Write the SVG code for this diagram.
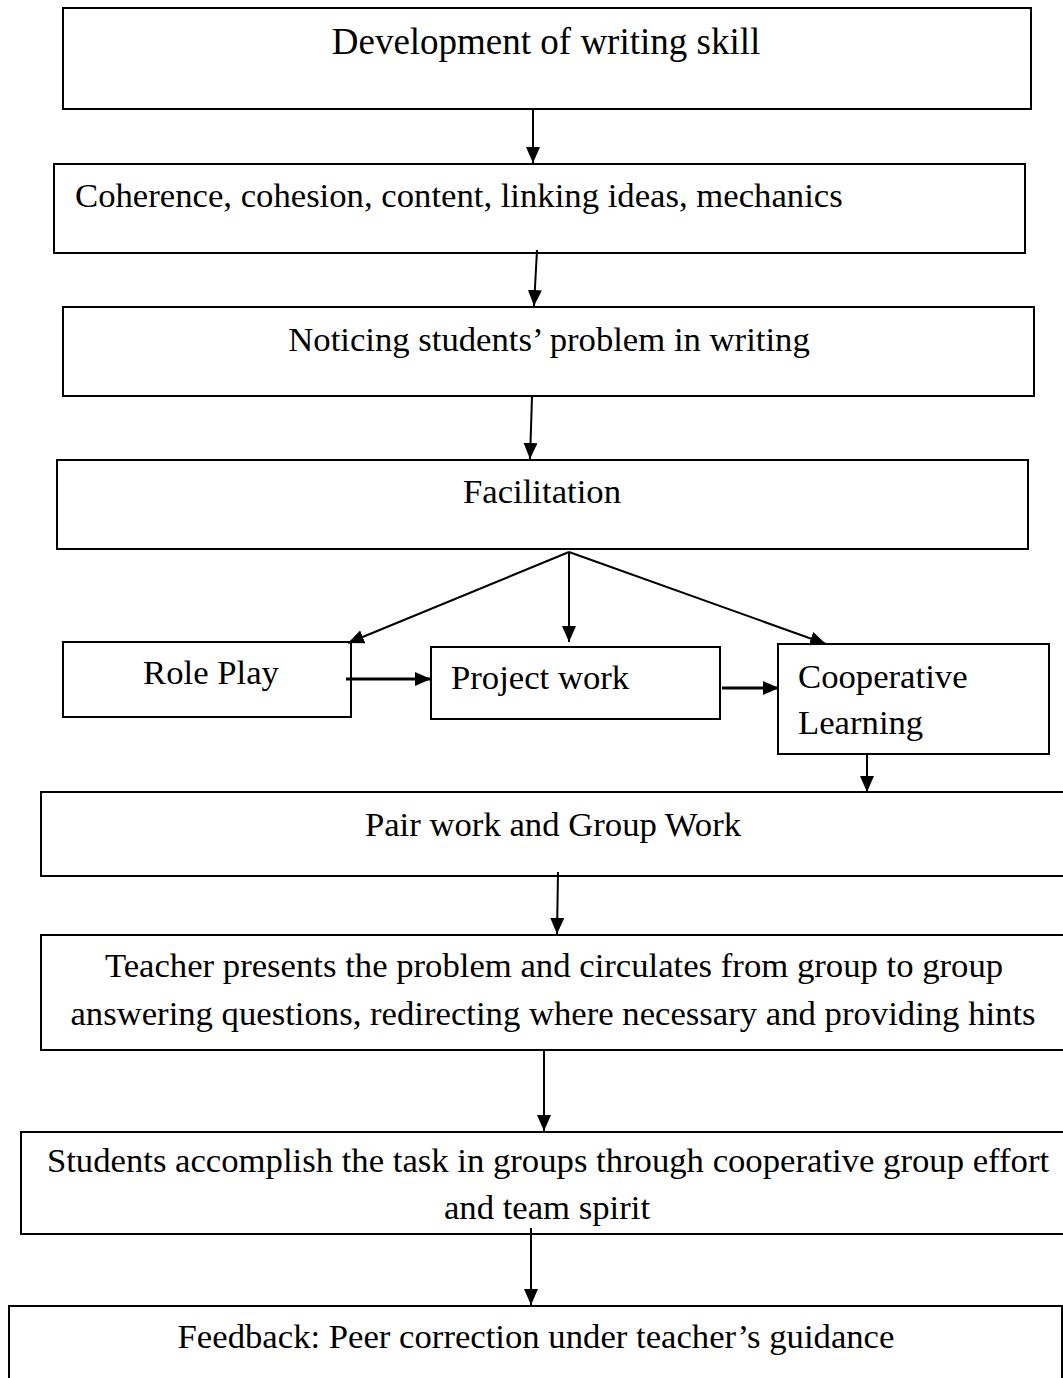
<svg xmlns="http://www.w3.org/2000/svg" width="1063" height="1378" viewBox="0 0 1063 1378">
<defs>
<style>
.box{fill:#fff;stroke:#000;stroke-width:2}
.t{font-family:"Liberation Serif","Times New Roman",serif;font-size:34.7px;fill:#000}
.c{text-anchor:middle}
.ln{stroke:#000;stroke-width:2;fill:none}
.thk{stroke:#000;stroke-width:3;fill:none}
</style>
<marker id="ah" markerUnits="userSpaceOnUse" markerWidth="16" markerHeight="14" refX="16" refY="7" orient="auto">
<path d="M0,0 L16,7 L0,14 z" fill="#000"/>
</marker>
</defs>
<rect width="1063" height="1378" fill="#fff"/>
<g id="n1"><rect class="box" x="63" y="8" width="968" height="101"/><text class="t c" x="546" y="54" style="font-size:37px">Development of writing skill</text></g>
<g id="n2"><rect class="box" x="54" y="164" width="971" height="89"/><text class="t" x="75" y="207">Coherence, cohesion, content, linking ideas, mechanics</text></g>
<g id="n3"><rect class="box" x="63" y="307" width="971" height="89"/><text class="t c" x="549" y="351">Noticing students’ problem in writing</text></g>
<g id="n4"><rect class="box" x="57" y="460" width="971" height="89"/><text class="t c" x="542" y="503">Facilitation</text></g>
<g id="n5"><rect class="box" x="63" y="642" width="288" height="75"/><text class="t c" x="211" y="684">Role Play</text></g>
<g id="n6"><rect class="box" x="431" y="647" width="289" height="72"/><text class="t" x="451" y="689">Project work</text></g>
<g id="n7"><rect class="box" x="778" y="644" width="271" height="110"/><text class="t" x="798" y="688">Cooperative</text><text class="t" x="798" y="734">Learning</text></g>
<g id="n8"><rect class="box" x="41" y="792" width="1030" height="84"/><text class="t c" x="553" y="836">Pair work and Group Work</text></g>
<g id="n9"><rect class="box" x="41" y="935" width="1030" height="115"/><text class="t c" x="554" y="977">Teacher presents the problem and circulates from group to group</text><text class="t c" x="553" y="1025">answering questions, redirecting where necessary and providing hints</text></g>
<g id="n10"><rect class="box" x="21" y="1132" width="1050" height="102"/><text class="t c" x="548" y="1172">Students accomplish the task in groups through cooperative group effort</text><text class="t c" x="547" y="1219">and team spirit</text></g>
<g id="n11"><rect class="box" x="9" y="1306" width="1053" height="90"/><text class="t c" x="536" y="1348">Feedback: Peer correction under teacher’s guidance</text></g>
<g id="connectors">
<line class="ln" x1="533" y1="110" x2="533" y2="163" marker-end="url(#ah)"/>
<line class="ln" x1="537" y1="250" x2="534" y2="306" marker-end="url(#ah)"/>
<line class="ln" x1="532" y1="397" x2="530" y2="459" marker-end="url(#ah)"/>
<line class="ln" x1="569" y1="552" x2="569" y2="642" marker-end="url(#ah)"/>
<line class="ln" x1="569" y1="552" x2="348" y2="643" marker-end="url(#ah)"/>
<line class="ln" x1="569" y1="552" x2="826" y2="644" marker-end="url(#ah)"/>
<line class="thk" x1="346" y1="679" x2="431" y2="679" marker-end="url(#ah)"/>
<line class="thk" x1="722" y1="688" x2="779" y2="688" marker-end="url(#ah)"/>
<line class="ln" x1="867" y1="754" x2="867" y2="792" marker-end="url(#ah)"/>
<line class="ln" x1="558" y1="872" x2="557" y2="934" marker-end="url(#ah)"/>
<line class="ln" x1="544" y1="1050" x2="544" y2="1131" marker-end="url(#ah)"/>
<line class="ln" x1="531" y1="1228" x2="531" y2="1305" marker-end="url(#ah)"/>
</g>
</svg>
